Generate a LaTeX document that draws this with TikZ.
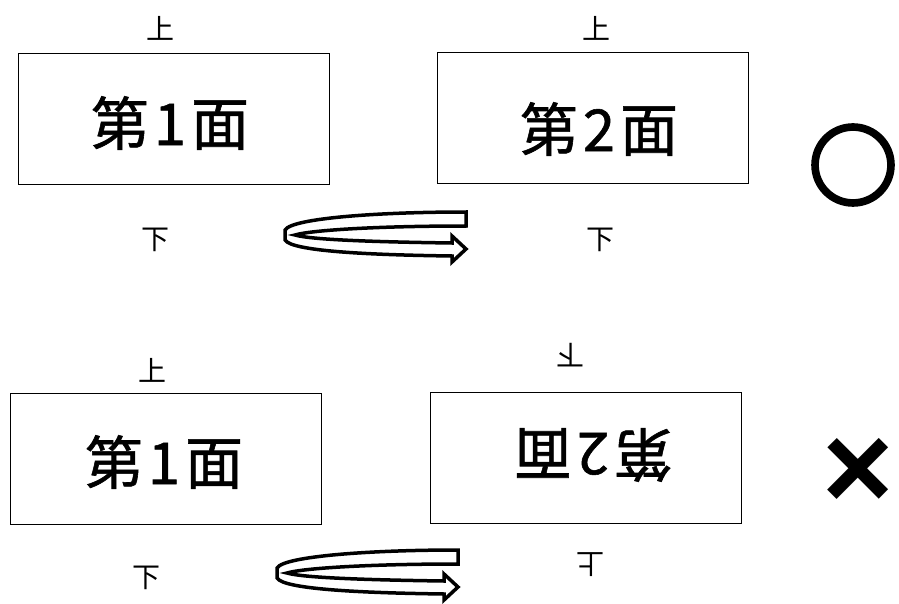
\documentclass[tikz,border=0pt]{standalone}
\usepackage{fontspec}
\newfontfamily\jp{Noto Sans CJK JP}
\newfontfamily\jpmid[FakeBold=1]{Noto Sans CJK JP}
\newfontfamily\jpheavy[FakeBold=5]{Noto Sans CJK JP}
\newfontfamily\lib{Liberation Sans}
\newcommand\menlabel[1]{第\kern5pt#1\kern5pt 面}
\begin{document}
\begin{tikzpicture}[x=1pt,y=-1pt,
  facebox/.style={draw=black,line width=1.5pt,minimum width=311pt,minimum height=131pt,inner sep=0pt},
  bigtext/.style={font=\jpmid\fontsize{58}{60}\selectfont,inner sep=0pt},
  side/.style={font=\jp\fontsize{28}{30}\selectfont,inner sep=0pt},
  symbolmark/.style={inner sep=0pt},
  ribbon/.style={draw=black,line width=3.5pt,fill=white,line join=miter}]
\useasboundingbox (0,0) rectangle (899,604);
% top row
\node[facebox] (b1) at (174,119) {};
\node[bigtext] (t1) at (170,123) {\menlabel{1}};
\node[side] (u1) at (160,28) {上};
\node[side] (d1) at (155,240) {下};
\node[facebox] (b2) at (593,118) {};
\node[bigtext] (t2) at (599,129) {\menlabel{2}};
\node[side] (u2) at (596,28) {上};
\node[side] (d2) at (600,240) {下};
\node[symbolmark,font=\jpheavy\fontsize{88}{88}\selectfont] (ok) at (853,165) {○};
% bottom row
\node[facebox] (b3) at (166,459) {};
\node[bigtext] (t3) at (164,462) {\menlabel{1}};
\node[side] (u3) at (152,370) {上};
\node[side] (d3) at (146,578) {下};
\node[facebox] (b4) at (586,458) {};
\node[bigtext,rotate=180] (t4) at (593,455) {\menlabel{2}};
\node[side,rotate=180] (u4) at (570,355) {下};
\node[side,rotate=180] (d4) at (590,565) {上};
\node[symbolmark,font=\lib\bfseries\fontsize{122}{122}\selectfont] (ng) at (858,474) {×};
% ribbons
\foreach \dx/\dy in {0/0,-8/338}{
\begin{scope}[shift={(\dx,\dy)}]
\draw[ribbon] (466,212) .. controls (380,212) and (292,218) .. (285,230)
  -- (285,240) .. controls (292,252) and (380,255) .. (452,256)
  -- (452,262) -- (466,249) -- (452,236) -- (452,243)
  .. controls (380,242) and (312,240) .. (295,235)
  .. controls (312,230) and (380,226) .. (466,226) -- cycle;
\end{scope}}
\end{tikzpicture}
\end{document}
